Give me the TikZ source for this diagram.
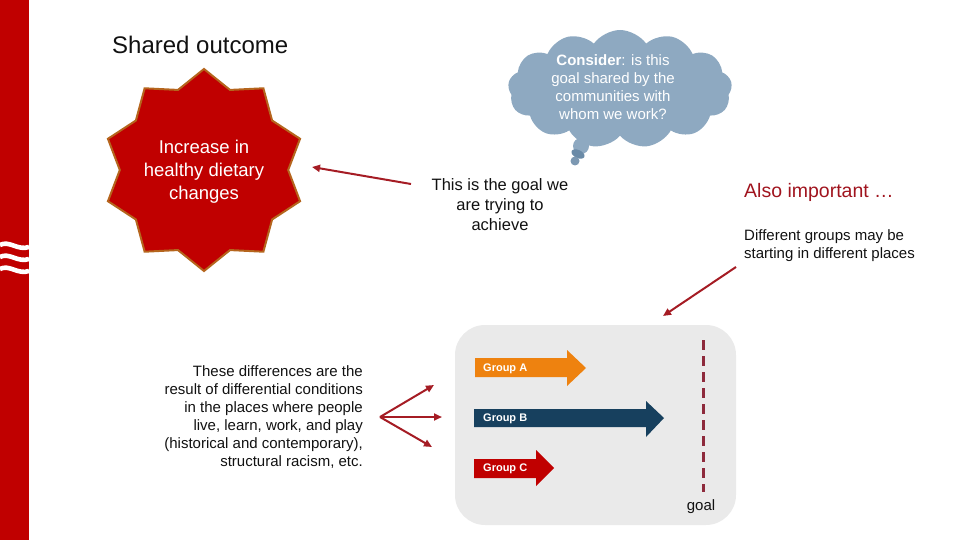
\documentclass[tikz,border=0pt]{standalone}
\usepackage{fontspec}
\setmainfont{Liberation Sans}
\usetikzlibrary{arrows.meta,shapes.geometric,shapes.symbols}
\definecolor{barred}{HTML}{C00000}
\definecolor{starborder}{HTML}{B5651D}
\definecolor{linkred}{HTML}{A51C24}
\definecolor{cloudblue}{HTML}{8EA9C1}
\definecolor{clouddark}{HTML}{6A8AA7}
\definecolor{cloudmid}{HTML}{7C98B2}
\definecolor{boxgray}{HTML}{EAEAEA}
\definecolor{grpA}{HTML}{EE820F}
\definecolor{grpB}{HTML}{17405E}
\definecolor{grpC}{HTML}{C00000}
\definecolor{goalline}{HTML}{8E2A3C}
\definecolor{alsored}{HTML}{A0141E}
\definecolor{txt}{HTML}{111111}
\tikzset{
  link/.style={draw=linkred, line width=2pt, -{Triangle[length=8pt,width=7pt]}},
  body/.style={text=txt, inner sep=0pt, font=\fontsize{15}{18}\selectfont},
  grplabel/.style={text=white, inner sep=0pt, anchor=west, font=\fontsize{11}{12}\selectfont\bfseries},
  wave/.style={draw=white, line width=4.6pt},
}
\begin{document}
\begin{tikzpicture}[x=1pt,y=-1pt]
\useasboundingbox (0,0) rectangle (960,540);
% left red bar
\fill[barred] (0,0) rectangle (29,540);
\draw[wave] (0,245) .. controls (9,240) and (18,251) .. (29,247);
\draw[wave] (0,257) .. controls (9,252) and (18,263) .. (29,259);
\draw[wave] (0,269) .. controls (9,264) and (18,275) .. (29,271);

% title
\node[body, anchor=west, font=\fontsize{24}{28}\selectfont] (title) at (112,45) {Shared outcome};

% star
\node[star, star points=10, star point ratio=1.2, minimum size=202pt, inner sep=0pt,
      fill=barred, draw=starborder, line width=2pt] (star) at (204,170) {};
\node[text=white, align=center, inner sep=0pt, font=\fontsize{18.5}{23}\selectfont] (startext) at (204,172)
  {Increase in\\healthy dietary\\changes};

% cloud
\node[cloud, cloud puffs=13, cloud puff arc=110, aspect=1.9, minimum width=224pt, minimum height=118pt,
      fill=cloudblue, inner sep=0pt] (cloud) at (620,89) {};
\fill[cloudblue] (581,146) circle (8);
\fill[clouddark, rotate around={-25:(578,154)}] (578,154) ellipse (7 and 4);
\fill[cloudmid] (575,161) circle (4.5);
\node[text=white, align=center, inner sep=0pt, font=\fontsize{15}{18}\selectfont] (cloudtext) at (613,87)
  {\textbf{Consider}: is this\\goal shared by the\\communities with\\whom we work?};

% goal text and arrow to star
\node[body, align=center, font=\fontsize{16.5}{20}\selectfont] (goaltext) at (500,205)
  {This is the goal we\\are trying to\\achieve};
\coordinate (goalfrom) at (411,184);
\coordinate (starhit) at (312,167);
\draw[link] (goalfrom) -- (starhit);

% also important
\node[anchor=west, inner sep=0pt, text=alsored, font=\fontsize{19.5}{23}\selectfont] (also) at (744,192) {Also important \ldots};
\node[body, anchor=west, align=left] (diff) at (744,246)
  {Different groups may be\\starting in different places};
\coordinate (difffrom) at (736,267);
\coordinate (diffto) at (663,316);
\draw[link] (difffrom) -- (diffto);

% left explanation
\node[body, anchor=east, align=right] (cond) at (363,417)
  {These differences are the\\result of differential conditions\\in the places where people\\live, learn, work, and play\\(historical and contemporary),\\structural racism, etc.};
\coordinate (fan) at (380,417);
\coordinate (fanA) at (434,385);
\coordinate (fanB) at (442,417);
\coordinate (fanC) at (432,447);
\draw[link] (fan) -- (fanA);
\draw[link] (fan) -- (fanB);
\draw[link] (fan) -- (fanC);

% gray panel
\node[fill=boxgray, rounded corners=30pt, minimum width=281pt, minimum height=200pt, inner sep=0pt] (panel) at (595.5,425) {};

% group arrows
\fill[grpA] (475,358) -- (567,358) -- (567,350) -- (586,368) -- (567,386) -- (567,377) -- (475,377) -- cycle;
\node[grplabel] (ga) at (483,369) {Group A};
\fill[grpB] (474,409) -- (646,409) -- (646,401) -- (664,418) -- (646,437) -- (646,427) -- (474,427) -- cycle;
\node[grplabel] (gb) at (483,419) {Group B};
\fill[grpC] (474,459) -- (536,459) -- (536,450) -- (554,468) -- (536,486) -- (536,478) -- (474,478) -- cycle;
\node[grplabel] (gc) at (483,469) {Group C};

% goal line
\coordinate (gtop) at (703,340);
\coordinate (gbot) at (703,492);
\draw[goalline, line width=3pt, dash pattern=on 10pt off 6pt] (gtop) -- (gbot);
\node[body] (goal) at (701,507) {goal};
\end{tikzpicture}
\end{document}
